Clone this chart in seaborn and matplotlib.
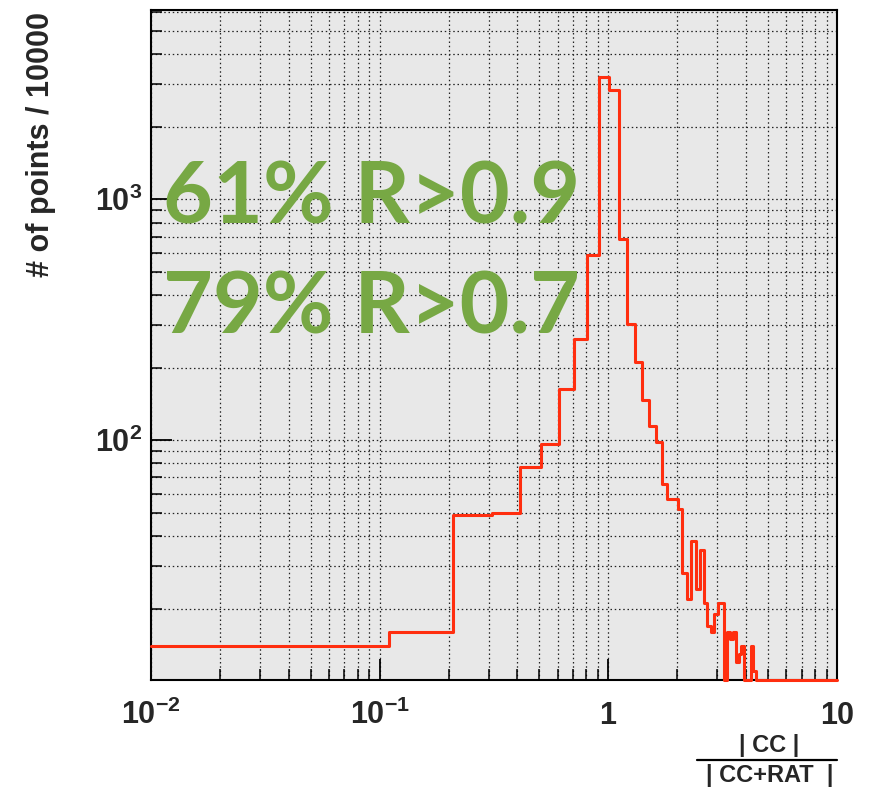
import numpy as np
import pandas as pd
import matplotlib
matplotlib.use("Agg")
import matplotlib.pyplot as plt
import seaborn as sns
from matplotlib.ticker import FixedLocator, FixedFormatter, NullFormatter
from matplotlib.lines import Line2D

# ---- histogram definition: 100 bins of width 0.1 starting at 0.01 ----
bin_start = 0.01
bin_width = 0.1
n_bins = 100

# entries per bin
counts = [
    14, 16, 49, 50, 77, 96, 163, 263, 587, 3212,
    2844, 684, 302, 211, 147, 114, 98, 66, 57, 57,
    52, 28, 22, 38, 24, 35, 21, 17, 16, 19,
    21, 21, 0, 16, 15, 16, 12, 13, 14, 0,
    0, 0, 14, 11, 0, 0, 0, 0, 0, 0,
    0, 0, 0, 0, 0, 0, 0, 0, 0, 0,
    0, 0, 0, 0, 0, 0, 0, 0, 0, 0,
    0, 0, 0, 0, 0, 0, 0, 0, 0, 0,
    0, 0, 0, 0, 0, 0, 0, 0, 0, 0,
    0, 0, 0, 0, 0, 0, 0, 0, 0, 0,
]

x_range = (0.01, 10.0)
y_range = (10.1, 6100.0)

x_major = [0.01, 0.1, 1.0, 10.0]
x_major_labels = [r"$\mathbf{10^{-2}}$", r"$\mathbf{10^{-1}}$", r"$\mathbf{1}$", r"$\mathbf{10}$"]
y_major = [100.0, 1000.0]
y_major_labels = [r"$\mathbf{10^{2}}$", r"$\mathbf{10^{3}}$"]

annotations = ["61% R>0.9", "79% R>0.7"]
y_title = "# of points / 10000"
x_title_num = "| CC |"
x_title_den = "| CC+RAT  |"

RED = "#FF2E0F"
GREEN = "#77A844"
FRAME_BG = "#E8E8E8"

# ---- style ----
sns.set_theme(style="white")
plt.rcParams["font.family"] = ["Liberation Sans", "DejaVu Sans"]
plt.rcParams["mathtext.fontset"] = "custom"
plt.rcParams["mathtext.rm"] = "Liberation Sans:bold"
plt.rcParams["mathtext.bf"] = "Liberation Sans:bold"
plt.rcParams["mathtext.it"] = "Liberation Sans:bold"

W, H = 883, 788
fig = plt.figure(figsize=(W / 100, H / 100), dpi=100)
fig.patch.set_facecolor("white")

def fx(px):
    return px / W

def fy(py):
    return 1 - py / H

ax = fig.add_axes([fx(151), fy(680), fx(837) - fx(151), fy(10) - fy(680)])
ax.set_facecolor(FRAME_BG)

edges = bin_start + bin_width * np.arange(n_bins + 1)
centers = edges[:-1] + bin_width / 2
# empty bins rest on the lower edge of the frame
shown = np.clip(np.asarray(counts, dtype=float), y_range[0], None)
hist_df = pd.DataFrame({"ratio": centers, "entries": shown})

sns.histplot(data=hist_df, x="ratio", weights="entries", bins=list(edges),
             element="step", fill=False, color=RED, linewidth=2.2, ax=ax,
             zorder=5, clip_on=False)

ax.set_xscale("log")
ax.set_yscale("log")
ax.set_xlim(*x_range)
ax.set_ylim(*y_range)

# ticks
ax.xaxis.set_major_locator(FixedLocator(x_major))
ax.xaxis.set_major_formatter(FixedFormatter(x_major_labels))
x_minor = [m * 10.0 ** e for e in (-2, -1, 0) for m in range(2, 10)]
ax.xaxis.set_minor_locator(FixedLocator(x_minor))
ax.xaxis.set_minor_formatter(NullFormatter())

ax.yaxis.set_major_locator(FixedLocator(y_major))
ax.yaxis.set_major_formatter(FixedFormatter(y_major_labels))
y_minor = [m * 10.0 ** e for e in (1, 2, 3) for m in range(2, 10)]
y_minor = [v for v in y_minor if y_range[0] < v < y_range[1]]
ax.yaxis.set_minor_locator(FixedLocator(y_minor))
ax.yaxis.set_minor_formatter(NullFormatter())

ax.tick_params(which="major", direction="in", length=15, width=1.3, color="black",
               labelsize=22, top=False, right=False, left=True, bottom=True)
ax.tick_params(which="minor", direction="in", length=8, width=1.1, color="black",
               top=False, right=False, left=True, bottom=True)
ax.tick_params(axis="x", which="major", pad=32)
ax.tick_params(axis="y", which="major", pad=6)
for t in ax.xaxis.get_major_ticks():
    t.label1.set_verticalalignment("baseline")

# dotted grid on every tick
ax.set_axisbelow(True)
ax.grid(True, which="both", color="#222222", linestyle=(0, (1.2, 2.2)), linewidth=0.9)

for side in ("left", "bottom", "top", "right"):
    ax.spines[side].set_visible(True)
    ax.spines[side].set_color("black")
    ax.spines[side].set_linewidth(1.5)

ax.set_xlabel("")
ax.set_ylabel("")

# annotation text
for label, base in zip(annotations, (223, 333)):
    fig.text(fx(163), fy(base), label, ha="left", va="baseline",
             fontsize=62, color=GREEN, family=["Lato", "DejaVu Sans"],
             fontweight="bold")

# axis titles
fig.text(fx(41), fy(12), y_title, rotation=90, ha="center", va="top",
         fontsize=22, fontweight="bold")
fig.text(fx(769), fy(752), x_title_num, ha="center", va="baseline",
         fontsize=17, fontweight="bold")
fig.add_artist(Line2D([fx(697), fx(837)], [fy(760), fy(760)],
                      transform=fig.transFigure, color="black", linewidth=1.6))
fig.text(fx(770), fy(782), x_title_den, ha="center", va="baseline",
         fontsize=17, fontweight="bold")

fig.savefig("out.png", dpi=100)
